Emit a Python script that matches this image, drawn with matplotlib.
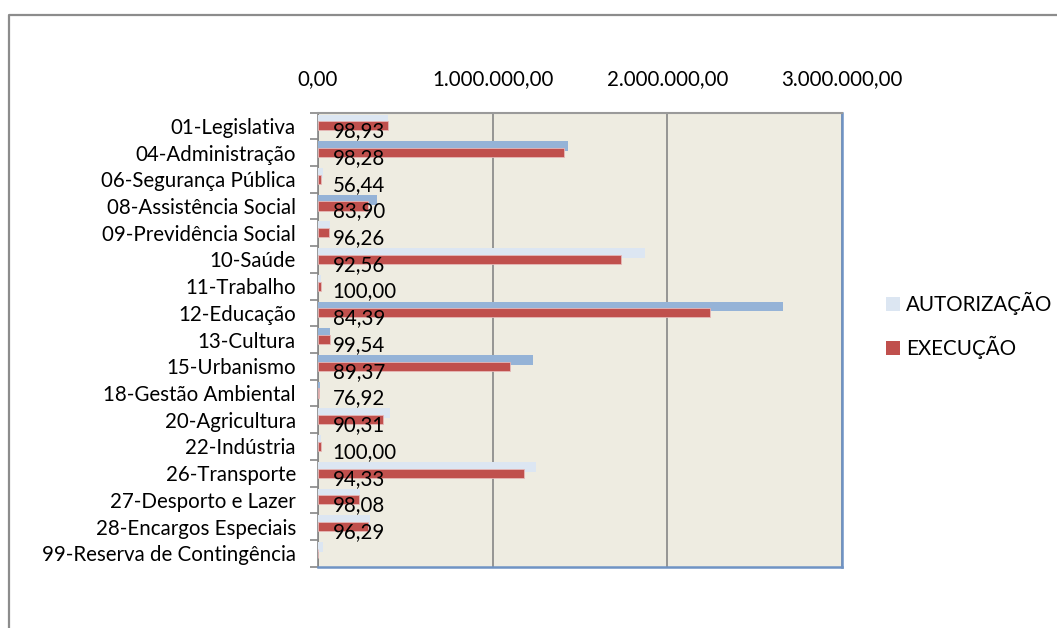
import matplotlib
matplotlib.use("Agg")
import matplotlib.pyplot as plt
from matplotlib.ticker import FuncFormatter, FixedLocator
from matplotlib.lines import Line2D
from matplotlib.patches import Patch
import matplotlib.transforms as mtrans

categories = ["01-Legislativa", "04-Administração", "06-Segurança Pública",
              "08-Assistência Social", "09-Previdência Social", "10-Saúde",
              "11-Trabalho", "12-Educação", "13-Cultura", "15-Urbanismo",
              "18-Gestão Ambiental", "20-Agricultura", "22-Indústria",
              "26-Transporte", "27-Desporto e Lazer", "28-Encargos Especiais",
              "99-Reserva de Contingência"]
autorizacao = [403000, 1430000, 27000, 338000, 67000, 1873000, 15000, 2660000,
               67000, 1229000, 10000, 410000, 17000, 1248000, 240000, 296000, 27000]
execucao = [399000, 1406000, 15000, 284000, 64500, 1733000, 15000, 2245000,
            66700, 1098000, 7700, 370000, 17000, 1177000, 235000, 285000, 0]
percentual = [98.93, 98.28, 56.44, 83.90, 96.26, 92.56, 100.00, 84.39, 99.54,
              89.37, 76.92, 90.31, 100.00, 94.33, 98.08, 96.29, None]
x_ticks = [0, 1000000, 2000000, 3000000]
series_names = ["AUTORIZAÇÃO", "EXECUÇÃO"]

LIGHT = "#dce6f2"
BLUE = "#95b3d7"
RED = "#c0504d"
autor_colors = [LIGHT, BLUE, LIGHT, BLUE, LIGHT, LIGHT, LIGHT, BLUE, BLUE, BLUE,
                BLUE, LIGHT, LIGHT, LIGHT, LIGHT, LIGHT, LIGHT]

FONT = "Lato"
FS = 14.8

def br_fmt(v, pos=None):
    s = f"{v:,.2f}"
    return s.replace(",", "X").replace(".", ",").replace("X", ".")

W, H = 1057, 628
fig = plt.figure(figsize=(W / 100, H / 100), dpi=100)
fig.patch.set_facecolor("white")

# outer chart border (left and top visible)
fig.add_artist(Line2D([9 / W, 9 / W, 1.0], [0.0, 1 - 14.5 / H, 1 - 14.5 / H],
                      transform=fig.transFigure, color="#8c8c8c", lw=1.6))

left, right, top, bottom = 318, 842, 112.5, 566.7
ax = fig.add_axes([left / W, 1 - bottom / H, (right - left) / W, (bottom - top) / H])
ax.set_facecolor("#eeece1")

y = list(range(len(categories)))
ax.barh([i - 0.24 for i in y], autorizacao, height=0.37, color=autor_colors,
        zorder=3)
ax.barh(y, execucao, height=0.34, color=RED, edgecolor="#e6b9b8",
        linewidth=0.6, zorder=4)

ax.set_xlim(0, 3000000)
ax.set_ylim(len(categories) - 0.5, -0.5)

ax.xaxis.tick_top()
ax.xaxis.set_major_locator(FixedLocator(x_ticks))
ax.xaxis.set_major_formatter(FuncFormatter(br_fmt))
ax.tick_params(axis="x", length=0, pad=17, labelsize=FS)
for t in ax.get_xticklabels():
    t.set_fontfamily(FONT)

ax.set_yticks(y)
ax.set_yticklabels(categories, fontsize=FS, fontfamily=FONT)
ax.set_yticks([i - 0.5 for i in range(len(categories) + 1)], minor=True)
ax.tick_params(axis="y", which="major", length=0, pad=16)
ax.tick_params(axis="y", which="minor", length=6, width=1.2, color="#868686")

ax.grid(axis="x", color="#868686", lw=1.2, zorder=1)
ax.set_axisbelow(True)

ax.spines["left"].set_color("#868686")
ax.spines["left"].set_linewidth(1.2)
ax.spines["top"].set_color("#9a9a9a")
ax.spines["top"].set_linewidth(1.5)
ax.spines["bottom"].set_color("#6f93c4")
ax.spines["bottom"].set_linewidth(1.8)
ax.spines["right"].set_color("#6f93c4")
ax.spines["right"].set_linewidth(1.8)

offset = mtrans.offset_copy(ax.transData, fig=fig, x=10.5, y=-3.9, units="points")
for i, p in enumerate(percentual):
    if p is None:
        continue
    ax.text(0, i, f"{p:.2f}".replace(".", ","), transform=offset,
            ha="left", va="center", fontsize=FS, fontfamily=FONT,
            color="black", zorder=6)

handles = [Patch(facecolor=LIGHT, edgecolor="none"),
           Patch(facecolor=RED, edgecolor="none")]
fig.legend(handles, series_names, loc="upper left",
           bbox_to_anchor=(878 / W, 1 - 284 / H), frameon=False,
           prop={"family": FONT, "size": FS}, handlelength=0.65,
           handleheight=0.65, handletextpad=0.3, labelspacing=1.0,
           borderaxespad=0)

fig.savefig("out.png", dpi=100)
